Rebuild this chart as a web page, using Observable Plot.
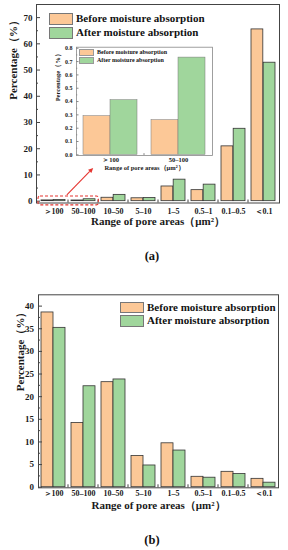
<!DOCTYPE html>
<html><head><meta charset="utf-8">
<script src="https://cdn.jsdelivr.net/npm/d3@7"></script>
<script src="https://cdn.jsdelivr.net/npm/@observablehq/plot@0.6"></script>
<style>
body{margin:0;background:#fff;}
#root{position:relative;width:288px;height:550px;overflow:hidden;font-family:"Liberation Serif","Times New Roman",serif;color:#111;}
#root svg{position:absolute;}
.leg{position:absolute;font-weight:bold;white-space:nowrap;}
.sw{position:absolute;box-sizing:border-box;}
.cap{position:absolute;font-weight:bold;font-size:12.5px;width:60px;text-align:center;}
</style></head><body><div id="root"></div>
<script>
// ---- data ----
const categories = ["＞100","50–100","10–50","5–10","1–5","0.5–1","0.1–0.5","＜0.1"];
const seriesNames = ["Before moisture absorption","After moisture absorption"];
const beforeA = [0.29,0.26,1.3,1.1,5.6,4.2,20.9,65.5];
const afterA  = [0.41,0.73,2.4,1.2,8.2,6.3,27.6,52.8];
const insetCategories = ["＞100","50–100"];
const beforeInset = [0.29,0.26];
const afterInset  = [0.41,0.73];
const beforeB = [38.6,14.2,23.2,6.9,9.7,2.3,3.4,1.85];
const afterB  = [35.2,22.3,23.8,4.8,8.1,2.1,2.9,1.0];
const yTicksA = [0,10,20,30,40,50,60,70];
const yMinorA = [5,15,25,35,45,55,65];
const yTicksB = [0,5,10,15,20,25,30,35,40];
const yMinorB = [2.5,7.5,12.5,17.5,22.5,27.5,32.5,37.5];
const yTicksInset = [0,0.1,0.2,0.3,0.4,0.5,0.6,0.7,0.8];
const yMinorInset = [0.05,0.15,0.25,0.35,0.45,0.55,0.65,0.75];
const xTitle = "Range of pore areas（μm²）";
const yTitle = "Percentage（%）";

const ORANGE = "#FCC897", GREEN = "#A0D69C", RED = "#E53530";
const root = document.getElementById("root");

function drawBars(o) {
  const bw = (o.width - o.mL - o.mR) / o.cats.length;
  const rows = o.cats.map((c, i) => ({cat: c, before: o.before[i], after: o.after[i]}));
  const blank = () => "";
  const chart = Plot.plot({
    width: o.width, height: o.height,
    marginLeft: o.mL, marginRight: o.mR, marginTop: o.mT, marginBottom: o.mB,
    style: {fontFamily: '"Liberation Serif", serif', fontWeight: "bold", fontSize: o.fs + "px",
            color: "#1a1a1a", background: "transparent", overflow: "visible"},
    x: {domain: o.cats, padding: 0, label: null},
    y: {domain: o.yDomain, label: null},
    marks: [
      Plot.frame({fill: o.frameFill || "none", stroke: "none"}),
      Plot.barY(rows, {x: "cat", y: "before", fill: ORANGE, stroke: o.barStroke, strokeWidth: o.barSW,
                       insetLeft: o.gap, insetRight: bw / 2}),
      Plot.barY(rows, {x: "cat", y: "after", fill: GREEN, stroke: o.barStroke, strokeWidth: o.barSW,
                       insetLeft: bw / 2, insetRight: o.gap}),
      Plot.axisY({ticks: o.major, tickSize: -o.tickLen, tickFormat: blank, label: null, stroke: o.frameStroke}),
      Plot.axisY({ticks: o.minor, tickSize: -o.tickLen / 2, tickFormat: blank, label: null, stroke: o.frameStroke}),
      Plot.axisY({ticks: o.major, tickSize: 0, tickPadding: o.yPad, tickFormat: o.fmt, label: null}),
      Plot.axisX({tickSize: 0, tickPadding: o.xPad, label: null, fontSize: o.xfs}),
      Plot.frame({stroke: o.frameStroke, strokeWidth: o.frameSW}),
      Plot.text([o.ylabel], {text: d => d, frameAnchor: "left", dx: o.ylDx, dy: o.ylDy || 0, rotate: -90,
                             fontSize: o.labelFs, fontWeight: "bold"}),
      Plot.text([o.xlabel], {text: d => d, frameAnchor: "bottom", dy: o.xlDy,
                             fontSize: o.labelFs, fontWeight: "bold"})
    ]
  });
  // inward category-boundary ticks on the x axis
  const xs = chart.scale("x"), ys = chart.scale("y");
  const svg = d3.select(chart);
  const yb = ys.apply(o.yDomain[0]);
  for (let i = 1; i < o.cats.length; i++) {
    const xp = xs.apply(o.cats[i]);
    svg.append("line").attr("x1", xp).attr("x2", xp).attr("y1", yb).attr("y2", yb - o.tickLen * 0.75)
      .attr("stroke", o.frameStroke).attr("stroke-width", 1);
  }
  chart.style.left = o.left + "px";
  chart.style.top = o.top + "px";
  root.appendChild(chart);
  return {chart, xs, ys, bw, svg};
}

function legend(x, y, swW, swH, gapY, fs, border) {
  seriesNames.forEach((name, i) => {
    const sw = document.createElement("div");
    sw.className = "sw";
    Object.assign(sw.style, {left: x + "px", top: (y + i * gapY) + "px", width: swW + "px", height: swH + "px",
      background: i === 0 ? ORANGE : GREEN, border: `1px solid ${border}`});
    root.appendChild(sw);
    const t = document.createElement("div");
    t.className = "leg";
    t.textContent = name;
    Object.assign(t.style, {left: (x + swW + 3) + "px", top: (y + i * gapY) + "px", height: swH + "px",
      lineHeight: swH + "px", fontSize: fs + "px"});
    root.appendChild(t);
  });
}

// ---- chart (a) ----
const A = drawBars({
  cats: categories, before: beforeA, after: afterA,
  width: 288, height: 235, mL: 36, mR: 9, mT: 4, mB: 32.5, left: 0, top: 0,
  yDomain: [-0.7, 75], major: yTicksA, minor: yMinorA, fmt: d3.format("d"),
  fs: 9, xfs: 8, tickLen: 4, gap: 3, barStroke: "#333", barSW: 0.8, frameStroke: "#444", frameSW: 1,
  yPad: 4, xPad: 5, ylabel: yTitle, xlabel: xTitle, labelFs: 11, ylDx: -23.5, ylDy: -4, xlDy: 21.5
});
// annotation: dashed box around the two smallest classes and arrow to the inset
{
  const {xs, ys, bw, svg} = A;
  const x0 = xs.apply(categories[0]), x1 = xs.apply(categories[1]) + bw;
  const yT = ys.apply(1.8), yB = ys.apply(-1.6);
  svg.append("rect").attr("x", x0).attr("y", yT).attr("width", x1 - x0).attr("height", yB - yT)
    .attr("rx", 2).attr("fill", "none").attr("stroke", RED).attr("stroke-width", 1.1).attr("stroke-dasharray", "3,2");
  const ax1 = xs.apply(categories[0]) + bw * 0.95, ay1 = ys.apply(2.2);
  const ax2 = xs.apply(categories[1]) + bw * 0.83, ay2 = ys.apply(12.5);
  const ang = Math.atan2(ay2 - ay1, ax2 - ax1), L = 5, W = 2.3;
  const bx = ax2 - L * Math.cos(ang), by = ay2 - L * Math.sin(ang);
  svg.append("line").attr("x1", ax1).attr("y1", ay1).attr("x2", bx).attr("y2", by)
    .attr("stroke", RED).attr("stroke-width", 1.1);
  svg.append("path").attr("fill", RED).attr("d",
    `M${ax2},${ay2}L${bx + W * Math.sin(ang)},${by - W * Math.cos(ang)}L${bx - W * Math.sin(ang)},${by + W * Math.cos(ang)}Z`);
}
legend(49, 13, 24, 11.5, 14.3, 11, "#777");

// ---- inset ----
drawBars({
  cats: insetCategories, before: beforeInset, after: afterInset,
  width: 166, height: 132, mL: 28, mR: 2, mT: 2.7, mB: 21, left: 48, top: 44,
  yDomain: [-0.005, 0.808], major: yTicksInset, minor: yMinorInset, fmt: d3.format(".1f"),
  fs: 6, xfs: 6.5, tickLen: 2.5, gap: 7, barStroke: "#777", barSW: 0.5, frameStroke: "#888", frameSW: 0.8,
  frameFill: "#fff", yPad: 4, xPad: 1.8, ylabel: yTitle, xlabel: xTitle, labelFs: 6.5, ylDx: -19, xlDy: 14
});
legend(79, 49, 15, 7, 8, 6, "#999");

// ---- chart (b) ----
drawBars({
  cats: categories, before: beforeB, after: afterB,
  width: 288, height: 235, mL: 38, mR: 10, mT: 14.3, mB: 27.7, left: 0, top: 280,
  yDomain: [-0.13, 42.5], major: yTicksB, minor: yMinorB, fmt: d3.format("d"),
  fs: 9, xfs: 8, tickLen: 4, gap: 3, barStroke: "#333", barSW: 0.8, frameStroke: "#444", frameSW: 1,
  yPad: 4.5, xPad: 2.5, ylabel: yTitle, xlabel: xTitle, labelFs: 11, ylDx: -18, xlDy: 21
});
legend(120, 301.5, 24, 11.5, 13.5, 11, "#777");

// ---- captions ----
[["(a)", 257], ["(b)", 541]].forEach(([t, y]) => {
  const d = document.createElement("div");
  d.className = "cap"; d.textContent = t;
  Object.assign(d.style, {left: (152 - 30) + "px", top: (y - 8) + "px"});
  root.appendChild(d);
});
</script></body></html>
